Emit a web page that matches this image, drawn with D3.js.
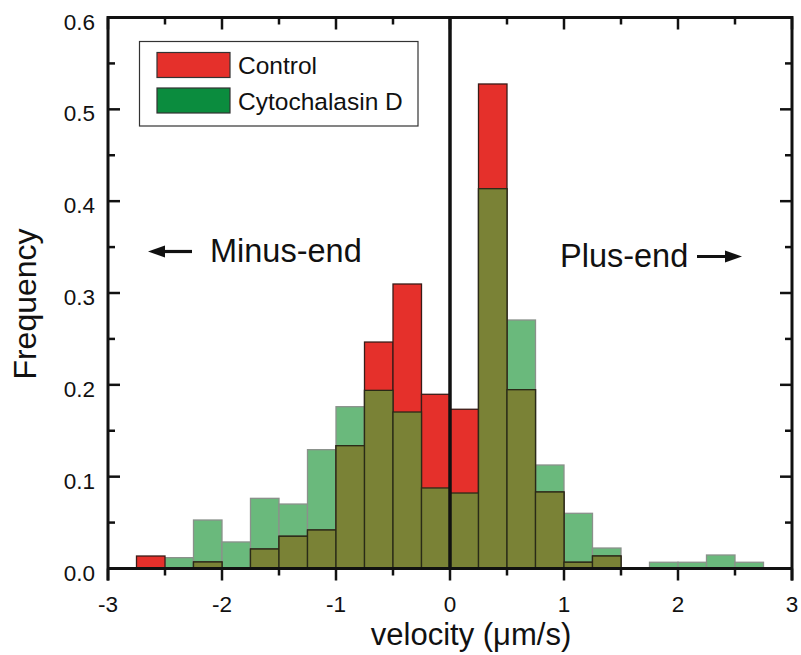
<!DOCTYPE html>
<html><head><meta charset="utf-8">
<script src="https://cdn.jsdelivr.net/npm/d3@7"></script>
<style>body{margin:0;background:#fff}svg{display:block;font-family:"Liberation Sans",Arial,sans-serif}</style>
</head><body><svg id="c" width="801" height="655"></svg>
<script>
const binStarts = [-2.75,-2.5,-2.25,-2.0,-1.75,-1.5,-1.25,-1.0,-0.75,-0.5,-0.25,0,0.25,0.5,0.75,1.0,1.25,1.5,1.75,2.0,2.25,2.5];
const binWidth = 0.25;
const control =    [0.0136,0,0.0071,0,0.0212,0.0351,0.0419,0.1337,0.2466,0.3098,0.1897,0.1734,0.5276,0.1947,0.0833,0.0068,0.0136,0,0,0,0,0];
const cytochalasin=[0,0.0118,0.0528,0.0289,0.0764,0.0702,0.1294,0.1762,0.194,0.1704,0.0877,0.0822,0.4136,0.2706,0.1127,0.0601,0.0223,0,0.0068,0.0068,0.0147,0.0068];
const xTicks = [-3,-2,-1,0,1,2,3];
const yTicks = [0,0.1,0.2,0.3,0.4,0.5,0.6];
const seriesNames = ["Control","Cytochalasin D"];

const svg = d3.select("#c");
const L=108, R=792, T=17.5, B=568.5;
const x = d3.scaleLinear().domain([-3,3]).range([L,R]);
const y = d3.scaleLinear().domain([0,0.6]).range([B,T]);
const RED="#e5302b", LGREEN="#6ab97c", OLIVE="#7a8236", DGREEN="#0b8c3e";

const data = binStarts.map((s,i)=>({s, c:control[i], g:cytochalasin[i]}));
const g = svg.append("g");
g.selectAll("rect.g").data(data.filter(d=>d.g>0)).enter().append("rect")
 .attr("x",d=>x(d.s)).attr("width",d=>x(d.s+binWidth)-x(d.s))
 .attr("y",d=>y(d.g)).attr("height",d=>y(0)-y(d.g))
 .attr("fill",LGREEN).attr("stroke","#8a918b").attr("stroke-width",1.3);
g.selectAll("rect.r").data(data.filter(d=>d.c>0)).enter().append("rect")
 .attr("x",d=>x(d.s)).attr("width",d=>x(d.s+binWidth)-x(d.s))
 .attr("y",d=>y(d.c)).attr("height",d=>y(0)-y(d.c))
 .attr("fill",RED).attr("stroke","#3a1c18").attr("stroke-width",1.3);
g.selectAll("rect.o").data(data.filter(d=>Math.min(d.c,d.g)>0)).enter().append("rect")
 .attr("x",d=>x(d.s)).attr("width",d=>x(d.s+binWidth)-x(d.s))
 .attr("y",d=>y(Math.min(d.c,d.g))).attr("height",d=>y(0)-y(Math.min(d.c,d.g)))
 .attr("fill",OLIVE).attr("stroke","#2a2a18").attr("stroke-width",1.3);

svg.append("line").attr("x1",x(0)).attr("x2",x(0)).attr("y1",T).attr("y2",B)
 .attr("stroke","#111").attr("stroke-width",3.5);

const tk = svg.append("g").attr("stroke","#111").attr("stroke-width",2.5);
const xMinor = d3.range(-2.5,3,1);
xTicks.forEach(v=>{
  tk.append("line").attr("x1",x(v)).attr("x2",x(v)).attr("y1",B).attr("y2",B+12);
  tk.append("line").attr("x1",x(v)).attr("x2",x(v)).attr("y1",T).attr("y2",T+12);
});
xMinor.forEach(v=>{
  tk.append("line").attr("x1",x(v)).attr("x2",x(v)).attr("y1",B).attr("y2",B+7);
  tk.append("line").attr("x1",x(v)).attr("x2",x(v)).attr("y1",T).attr("y2",T+7);
});
const yMinor = d3.range(0.05,0.6,0.1);
yTicks.forEach(v=>{
  tk.append("line").attr("x1",L).attr("x2",L+12).attr("y1",y(v)).attr("y2",y(v));
  tk.append("line").attr("x1",R).attr("x2",R-12).attr("y1",y(v)).attr("y2",y(v));
});
yMinor.forEach(v=>{
  tk.append("line").attr("x1",L).attr("x2",L+7).attr("y1",y(v)).attr("y2",y(v));
  tk.append("line").attr("x1",R).attr("x2",R-7).attr("y1",y(v)).attr("y2",y(v));
});
svg.append("path").attr("d",`M${L},${B+12}V${T}H${R}V${B+12}M${L},${B}H${R}`)
 .attr("fill","none").attr("stroke","#111").attr("stroke-width",3);

svg.append("g").selectAll("text").data(yTicks).enter().append("text")
 .attr("x",95).attr("y",d=>y(d)+12).attr("text-anchor","end")
 .attr("font-size",22.5).attr("fill","#111").text(d=>d3.format(".1f")(d));
svg.append("g").selectAll("text").data(xTicks).enter().append("text")
 .attr("x",d=>x(d)).attr("y",612).attr("text-anchor","middle")
 .attr("font-size",22.5).attr("fill","#111").text(d=>d);

svg.append("text").attr("x",471).attr("y",645).attr("text-anchor","middle")
 .attr("font-size",31).attr("fill","#111").text("velocity (μm/s)");
svg.append("text").attr("transform","translate(36,304) rotate(-90)").attr("text-anchor","middle")
 .attr("font-size",32).attr("fill","#111").text("Frequency");

svg.append("text").attr("x",210).attr("y",262).attr("font-size",32.5).attr("fill","#111").text("Minus-end");
svg.append("text").attr("x",560).attr("y",267).attr("font-size",32.5).attr("fill","#111").text("Plus-end");
function arrow(x1,x2,yy){
  const dir = Math.sign(x2-x1);
  svg.append("line").attr("x1",x1).attr("x2",x2-dir*12).attr("y1",yy).attr("y2",yy).attr("stroke","#111").attr("stroke-width",3.2);
  svg.append("path").attr("d",`M${x2},${yy}L${x2-dir*17},${yy-6}L${x2-dir*17},${yy+6}Z`).attr("fill","#111");
}
arrow(192,148,251.5);
arrow(697,742,256.5);

const lg = svg.append("g");
lg.append("rect").attr("x",139.5).attr("y",41.5).attr("width",278.5).attr("height",84.5)
 .attr("fill","#fff").attr("stroke","#333").attr("stroke-width",1.2);
[RED,DGREEN].forEach((c,i)=>{
  lg.append("rect").attr("x",157).attr("y",52.5+i*35.5).attr("width",73).attr("height",25)
   .attr("fill",c).attr("stroke","#333").attr("stroke-width",1.2);
  lg.append("text").attr("x",238).attr("y",74+i*35.5).attr("font-size",24.5).attr("fill","#111").text(seriesNames[i]);
});
</script></body></html>
